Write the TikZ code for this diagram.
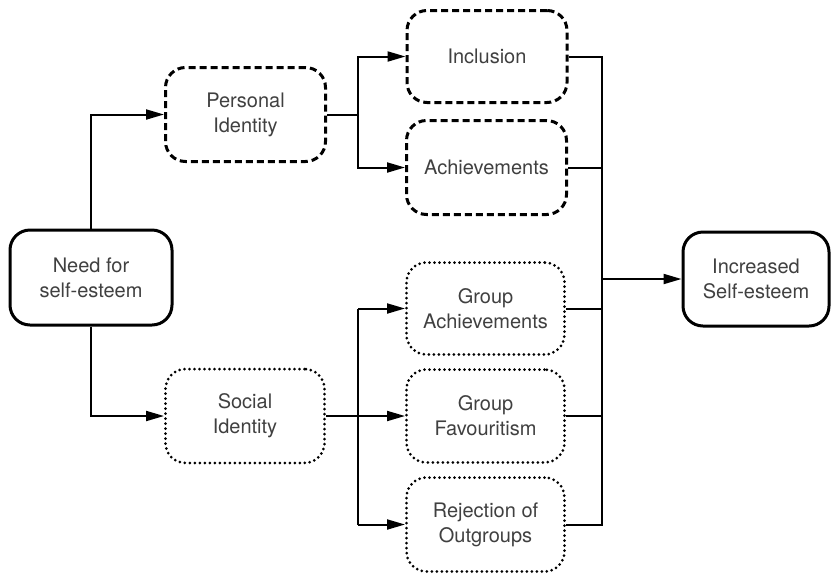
\documentclass[tikz,border=0pt]{standalone}
\usepackage{fontspec}
\setmainfont{TeX Gyre Heros}
\usetikzlibrary{arrows.meta}
\definecolor{txt}{HTML}{404040}
\tikzset{
  box/.style={draw=black, line width=3pt, rounded corners=20pt, align=center,
    text=txt, font=\fontsize{20}{25}\selectfont, inner sep=0pt},
  solidbox/.style={box},
  dashbox/.style={box, dash pattern=on 7pt off 4pt},
  dotbox/.style={box, line cap=round, dash pattern=on 0pt off 5pt},
  conn/.style={draw=black, line width=2pt},
  arrow/.style={conn, -{Triangle[length=18pt,width=10pt]}},
}
\begin{document}
\begin{tikzpicture}[x=1pt,y=-1pt]
\useasboundingbox (0,0) rectangle (832,574);
% source and result
\node[solidbox, minimum width=162pt, minimum height=95pt] (need) at (91,277.5) {Need for\\self-esteem};
\node[solidbox, minimum width=146pt, minimum height=94pt] (inc) at (756,279) {Increased\\Self-esteem};
% personal identity branch
\node[dashbox, minimum width=160pt, minimum height=94pt] (pid) at (245.5,114.5) {Personal\\Identity};
\node[dashbox, minimum width=160pt, minimum height=92pt] (incl) at (487,56.5) {Inclusion};
\node[dashbox, minimum width=160pt, minimum height=94pt] (ach) at (486.5,167.5) {Achievements};
% social identity branch
\node[dotbox, minimum width=159pt, minimum height=94pt] (sid) at (245,416) {Social\\Identity};
\node[dotbox, minimum width=158pt, minimum height=92pt] (gach) at (485.5,308.5) {Group\\Achievements};
\node[dotbox, minimum width=158pt, minimum height=93pt] (gfav) at (485.5,416) {Group\\Favouritism};
\node[dotbox, minimum width=158pt, minimum height=94pt] (rej) at (485.5,524.5) {Rejection of\\Outgroups};
% junction columns
\coordinate (split) at (358,0);
\coordinate (bus) at (602,0);
% from the need to both identities
\draw[arrow] (need.north) |- (pid.west);
\draw[arrow] (need.south) |- (sid.west);
% personal identity fan-out
\draw[conn] (pid.east) -- (pid.east -| split);
\draw[arrow] (pid.east -| split) |- (incl.west);
\draw[arrow] (pid.east -| split) |- (ach.west);
% social identity fan-out
\draw[arrow] (sid.east) -- (gfav.west);
\draw[arrow] (gach.west -| split) -- (gach.west);
\draw[arrow] (rej.west -| split) -- (rej.west);
\draw[conn] (gach.west -| split) -- (rej.west -| split);
% collecting bus
\draw[conn] (incl.east) -- (incl.east -| bus) -- (rej.east -| bus) -- (rej.east);
\draw[conn] (ach.east) -- (ach.east -| bus);
\draw[conn] (gach.east) -- (gach.east -| bus);
\draw[conn] (gfav.east) -- (gfav.east -| bus);
\draw[arrow] (inc.west -| bus) -- (inc.west);
\end{tikzpicture}
\end{document}
